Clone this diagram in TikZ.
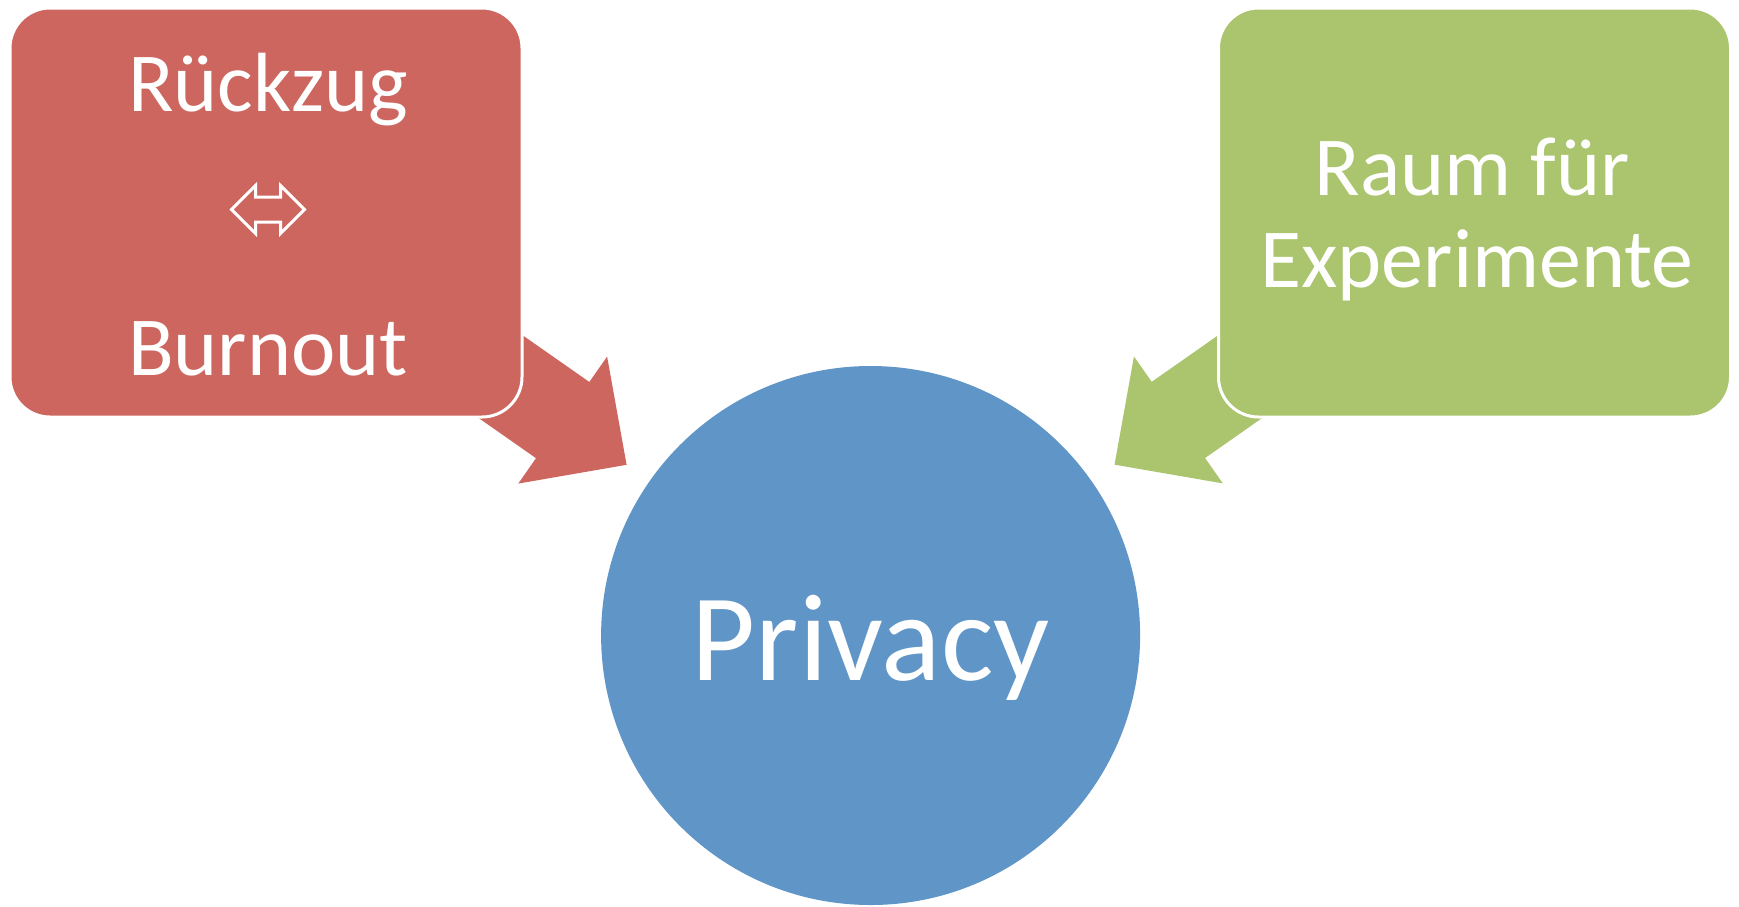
\documentclass[tikz,border=0pt]{standalone}
\usepackage{fontspec}
\setmainfont{Carlito}
\usepackage{xcolor}
\usetikzlibrary{shapes,positioning,calc,backgrounds}

\definecolor{boxred}{RGB}{205,102,95}
\definecolor{boxgreen}{RGB}{171,196,110}
\definecolor{circleblue}{RGB}{96,149,200}

\begin{document}
\begin{tikzpicture}[
    x=1pt, y=-1pt,
    box/.style={rectangle, rounded corners=40pt, draw=white, line width=3pt, minimum width=512pt, minimum height=409pt, inner sep=0pt},
    boxtext/.style={text=white, font=\fontsize{84}{92}\selectfont, inner sep=0pt, anchor=base}
]
    \useasboundingbox (0,0) rectangle (1739,906);

    \node[box, fill=boxred] (rueckzug) at (266,212.5) {};
    \node[box, fill=boxgreen] (raum) at (1474.5,212.5) {};
    \node[circle, fill=circleblue, minimum size=539pt, inner sep=0pt, text=white,
          font=\fontsize{124}{130}\selectfont, text height=89pt, text depth=0pt] (privacy) at (870.6,635.5) {Privacy};

    \node[boxtext] (rueckzug-top) at (268,111) {Rückzug};
    \node[double arrow, draw=white, line width=3pt, minimum height=73pt, inner sep=11pt, double arrow head extend=11.5pt] (swap) at (268,209.6) {};
    \node[boxtext] (burnout) at (268,375) {Burnout};
    \node[boxtext] (raum-top) at (1472,195.2) {Raum für};
    \node[boxtext] (experimente) at (1477,287.2) {Experimente};

    % block arrows from the boxes towards the circle
    \begin{scope}[on background layer]
        \foreach \src/\col in {rueckzug/boxred, raum/boxgreen} {
            \coordinate (tip) at ($(privacy.center)!297.8pt!(\src.center)$);
            \coordinate (base) at ($(privacy.center)!375.8pt!(\src.center)$);
            \fill[\col] (tip) -- ($(base)!77.5pt!90:(tip)$) -- ($(base)!46.5pt!90:(tip)$)
                -- ($(\src.center)!46.5pt!90:(base)$) -- ($(\src.center)!46.5pt!-90:(base)$)
                -- ($(base)!46.5pt!-90:(tip)$) -- ($(base)!77.5pt!-90:(tip)$) -- cycle;
        }
    \end{scope}
\end{tikzpicture}
\end{document}
